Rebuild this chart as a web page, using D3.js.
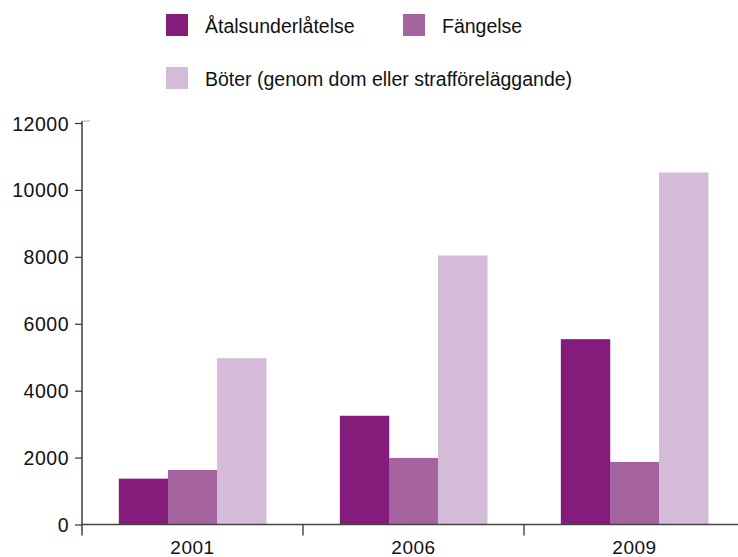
<!DOCTYPE html>
<html>
<head>
<meta charset="utf-8">
<title></title>
<style>
body { margin: 0; background: #fff; }
text { font-family: "Liberation Sans", Arial, sans-serif; fill: #111; }
</style>
</head>
<body>
<script src="https://d3js.org/d3.v7.min.js"></script>
<script>

var years = ["2001", "2006", "2009"];
var seriesNames = ["Åtalsunderlåtelse", "Fängelse", "Böter (genom dom eller strafföreläggande)"];
var atal = [1370, 3250, 5540];
var fangelse = [1630, 1990, 1870];
var boter = [4970, 8040, 10520];
var yTicks = [0, 2000, 4000, 6000, 8000, 10000, 12000];
var colors = ["#841c7c", "#a564a0", "#d4bbd8"];

var width = 738, height = 557;
var margin = {left: 82, top: 123, bottom: 32.5};

var rows = years.map(function(y, i) {
  return {year: y, values: [atal[i], fangelse[i], boter[i]]};
});

var svg = d3.select("body").append("svg")
    .attr("width", width)
    .attr("height", height);

var x = d3.scaleBand()
    .domain(years)
    .range([margin.left, margin.left + 221 * 3]);

var xInner = d3.scaleBand()
    .domain([0, 1, 2])
    .range([0, x.bandwidth()])
    .paddingInner(0)
    .paddingOuter(0.75);

var y = d3.scaleLinear()
    .domain([0, 12000])
    .range([height - margin.bottom, margin.top]);

// bars
var group = svg.append("g")
    .selectAll("g")
    .data(rows)
    .enter().append("g")
    .attr("transform", function(d) { return "translate(" + x(d.year) + ",0)"; });

group.selectAll("rect")
    .data(function(d) { return d.values; })
    .enter().append("rect")
    .attr("x", function(d, i) { return xInner(i); })
    .attr("y", function(d) { return y(d); })
    .attr("width", xInner.bandwidth() + 0.3)
    .attr("height", function(d) { return y(0) - y(d); })
    .style("fill", function(d, i) { return colors[i]; });

// y axis
var yAxis = svg.append("g")
    .attr("transform", "translate(" + margin.left + ",0)")
    .call(d3.axisLeft(y).tickValues(yTicks).tickFormat(d3.format("d"))
        .tickSize(7).tickPadding(6).tickSizeOuter(0));
yAxis.select(".domain").remove();
yAxis.append("line")
    .attr("x1", 0).attr("x2", 0)
    .attr("y1", y(12000) - 2).attr("y2", y(0) + 11)
    .attr("stroke", "#222").attr("stroke-width", 1.3);
yAxis.append("line")
    .attr("x1", 0).attr("x2", 8)
    .attr("y1", y(12000) - 2).attr("y2", y(12000) - 2)
    .attr("stroke", "#aab").attr("stroke-width", 1);
yAxis.selectAll(".tick line").attr("stroke", "#333").attr("stroke-width", 1.2);
yAxis.selectAll(".tick text")
    .style("font-size", "19.5px")
    .style("letter-spacing", "0.5px")
    .style("fill", "#111")
    .attr("dy", "0.36em");

// x axis
var xAxis = svg.append("g")
    .attr("transform", "translate(0," + y(0) + ")");
xAxis.append("line")
    .attr("x1", margin.left).attr("x2", width)
    .attr("stroke", "#444").attr("stroke-width", 1.3);
xAxis.selectAll(".sep")
    .data(years.slice(1))
    .enter().append("line")
    .attr("class", "sep")
    .attr("x1", function(d) { return x(d); })
    .attr("x2", function(d) { return x(d); })
    .attr("y1", 0).attr("y2", 11)
    .attr("stroke", "#333").attr("stroke-width", 1.3);
xAxis.selectAll(".lab")
    .data(years)
    .enter().append("text")
    .attr("class", "lab")
    .attr("x", function(d) { return x(d) + x.bandwidth() / 2; })
    .attr("y", 29.5)
    .attr("text-anchor", "middle")
    .style("font-size", "19px")
    .style("letter-spacing", "0.5px")
    .text(function(d) { return d; });

// legend
var legendPos = [{x: 166, y: 14}, {x: 403, y: 14}, {x: 166, y: 67}];
var legend = svg.append("g")
    .selectAll("g")
    .data(seriesNames)
    .enter().append("g")
    .attr("transform", function(d, i) { return "translate(" + legendPos[i].x + "," + legendPos[i].y + ")"; });

legend.append("rect")
    .attr("width", 22).attr("height", 22)
    .style("fill", function(d, i) { return colors[i]; });

legend.append("text")
    .attr("x", 39)
    .attr("y", 19)
    .style("font-size", "19.5px")
    .text(function(d) { return d; });

</script>
</body>
</html>
